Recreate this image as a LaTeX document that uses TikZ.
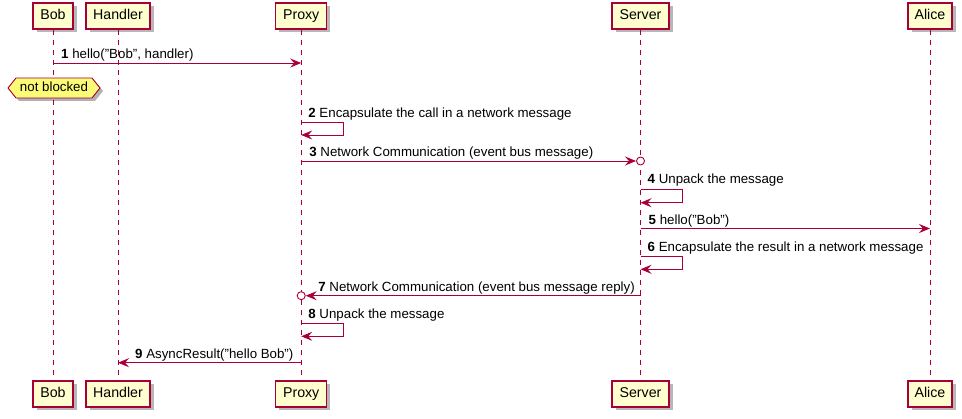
\documentclass[tikz,border=0pt]{standalone}
\usepackage{fontspec}
\setmainfont{Liberation Sans}
\usetikzlibrary{arrows.meta,shadows,calc}
\definecolor{pred}{HTML}{A80036}
\definecolor{pfill}{HTML}{FEFECE}
\definecolor{nfill}{HTML}{FBFB77}
\begin{document}
\begin{tikzpicture}[x=1pt,y=-1pt,
  part/.style={draw=pred, fill=pfill, line width=1.4pt, minimum height=26pt, inner sep=0pt,
    text height=10.5pt, text depth=3pt,
    font=\fontsize{14.2}{16}\selectfont,
    drop shadow={shadow xshift=3.5pt,shadow yshift=-3.5pt,opacity=0.4,fill=black!70}},
  life/.style={draw=pred, dash pattern=on 5pt off 5pt, line width=0.8pt},
  msg/.style={draw=pred, line width=0.9pt, -{Stealth[length=11pt,width=9pt,inset=4pt]}},
  lbl/.style={font=\fontsize{13.3}{15}\selectfont, inner sep=0pt, anchor=base west},
  circ/.style={draw=pred, fill=white, line width=0.9pt},
]
\useasboundingbox (0,0) rectangle (962,419);
% participants
\node[part, minimum width=40pt] (bobT) at (53,16) {Bob};
\node[part, minimum width=64pt] (handlerT) at (118,16) {Handler};
\node[part, minimum width=51pt] (proxyT) at (301.2,16) {Proxy};
\node[part, minimum width=57pt] (serverT) at (640.5,16) {Server};
\node[part, minimum width=44pt] (aliceT) at (930,16) {Alice};
\node[part, minimum width=40pt] (bobB) at (53,394) {Bob};
\node[part, minimum width=64pt] (handlerB) at (118,394) {Handler};
\node[part, minimum width=51pt] (proxyB) at (301.2,394) {Proxy};
\node[part, minimum width=57pt] (serverB) at (640.5,394) {Server};
\node[part, minimum width=44pt] (aliceB) at (930,394) {Alice};
% lifelines
\draw[life] (bobT.south) -- (bobB.north);
\draw[life] (handlerT.south) -- (handlerB.north);
\draw[life] (proxyT.south) -- (proxyB.north);
\draw[life] (serverT.south) -- (serverB.north);
\draw[life] (aliceT.south) -- (aliceB.north);
% rows
\coordinate (r1) at (0,63);
\coordinate (r2a) at (0,122.3);
\coordinate (r2b) at (0,135);
\coordinate (r3) at (0,161);
\coordinate (r4a) at (0,189);
\coordinate (r4b) at (0,202.7);
\coordinate (r5) at (0,228.5);
\coordinate (r6a) at (0,256.7);
\coordinate (r6b) at (0,269.3);
\coordinate (r7) at (0,295.7);
\coordinate (r8a) at (0,323.7);
\coordinate (r8b) at (0,336.3);
\coordinate (r9) at (0,362.7);
% 1
\draw[msg] (bobT |- r1) -- (proxyT |- r1);
\node[lbl] (l1) at ($(bobT |- r1)+(8,-4)$) {\textbf{1} hello("Bob", handler)};
% note
\fill[black, opacity=0.3] (11,91) -- (19,81) -- (95,81) -- (103,91) -- (95,101) -- (19,101) -- cycle;
\draw[pred, fill=nfill, line width=0.9pt] (8,88) -- (16,78) -- (92,78) -- (100,88) -- (92,98) -- (16,98) -- cycle;
\node[font=\fontsize{13.3}{15}\selectfont, inner sep=0pt, text height=9.5pt, text depth=2.8pt] (note) at (54,88) {not blocked};
% 2
\draw[msg] (proxyT |- r2a) -- ++(42,0) |- (proxyT |- r2b);
\node[lbl] (l2) at ($(proxyT |- r2a)+(7,-5)$) {\textbf{2} Encapsulate the call in a network message};
% 3
\draw[msg] (proxyT |- r3) -- ($(serverT |- r3)+(-4.5,0)$);
\draw[circ] (serverT |- r3) circle (4pt);
\node[lbl] (l3) at ($(proxyT |- r3)+(8,-4)$) {\textbf{3} Network Communication (event bus message)};
% 4
\draw[msg] (serverT |- r4a) -- ++(42,0) |- (serverT |- r4b);
\node[lbl] (l4) at ($(serverT |- r4a)+(7,-5)$) {\textbf{4} Unpack the message};
% 5
\draw[msg] (serverT |- r5) -- (aliceT |- r5);
\node[lbl] (l5) at ($(serverT |- r5)+(8,-4)$) {\textbf{5} hello("Bob")};
% 6
\draw[msg] (serverT |- r6a) -- ++(42,0) |- (serverT |- r6b);
\node[lbl] (l6) at ($(serverT |- r6a)+(7,-5)$) {\textbf{6} Encapsulate the result in a network message};
% 7
\draw[msg] (serverT |- r7) -- ($(proxyT |- r7)+(4.5,0)$);
\draw[circ] (proxyT |- r7) circle (4pt);
\node[lbl] (l7) at ($(proxyT |- r7)+(17,-4)$) {\textbf{7} Network Communication (event bus message reply)};
% 8
\draw[msg] (proxyT |- r8a) -- ++(42,0) |- (proxyT |- r8b);
\node[lbl] (l8) at ($(proxyT |- r8a)+(7,-5)$) {\textbf{8} Unpack the message};
% 9
\draw[msg] (proxyT |- r9) -- (handlerT |- r9);
\node[lbl] (l9) at ($(handlerT |- r9)+(17,-4)$) {\textbf{9} AsyncResult("hello Bob")};
\end{tikzpicture}
\end{document}
